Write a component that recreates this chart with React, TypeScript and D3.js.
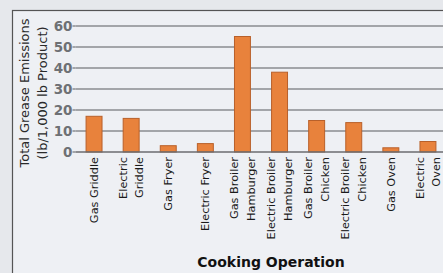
import React from "react";
import * as d3 from "d3";

const categories: string[][] = [
  ["Gas Griddle"],
  ["Electric", "Griddle"],
  ["Gas Fryer"],
  ["Electric Fryer"],
  ["Gas Broiler", "Hamburger"],
  ["Electric Broiler", "Hamburger"],
  ["Gas Broiler", "Chicken"],
  ["Electric Broiler", "Chicken"],
  ["Gas Oven"],
  ["Electric", "Oven"],
];
const values: number[] = [17, 16, 3, 4, 55, 38, 15, 14, 2, 5];
const yTicks: number[] = [0, 10, 20, 30, 40, 50, 60];
const yTitle: string[] = ["Total Grease Emissions", "(lb/1,000 lb Product)"];
const xTitle = "Cooking Operation";

export default function App() {
  const W = 443, H = 273;
  const left = 75.5, step = 37.1;
  const x = d3
    .scaleBand<number>()
    .domain(d3.range(categories.length))
    .range([left, left + step * categories.length])
    .paddingInner(0.57)
    .paddingOuter(0.285);
  const y = d3.scaleLinear().domain([0, 60]).range([152, 26]);
  const font = "'DejaVu Sans', Verdana, sans-serif";
  return (
    <svg
      width={W}
      height={H}
      style={{ position: "absolute", left: 0, top: 0, display: "block" }}
    >
      <rect x={0} y={0} width={W} height={H} fill="#e6e8ec" />
      <rect x={12.5} y={10.5} width={W} height={H} fill="#eef0f4" stroke="#555" strokeWidth={1.2} />
      {yTicks.map((t) => (
        <g key={t}>
          {t > 0 && (
            <line x1={left} x2={W} y1={y(t)} y2={y(t)} stroke="#8a8c90" strokeWidth={1.5} />
          )}
          <line x1={left - 3} x2={left} y1={y(t)} y2={y(t)} stroke="#8a8c90" strokeWidth={1.5} />
          <text
            x={left - 3}
            y={y(t)}
            dy="0.36em"
            textAnchor="end"
            fontFamily={font}
            fontWeight="bold"
            fontSize={13.5}
            fill="#6e7074"
          >
            {t}
          </text>
        </g>
      ))}
      {values.map((v, i) => (
        <rect
          key={i}
          x={x(i)}
          y={y(v)}
          width={x.bandwidth()}
          height={y(0) - y(v)}
          fill="#e8823c"
          stroke="#b8602a"
          strokeWidth={1}
        />
      ))}
      <line x1={left} x2={W} y1={y(0)} y2={y(0)} stroke="#6b6d70" strokeWidth={1.5} />
      {categories.map((lines, i) => {
        const cx = (x(i) as number) + x.bandwidth() / 2;
        const n = lines.length;
        return (
          <text
            key={i}
            transform={`translate(${cx},${157}) rotate(-90)`}
            textAnchor="end"
            fontFamily={font}
            fontSize={11.3}
            fill="#1a1a1a"
          >
            {lines.map((l, j) => (
              <tspan key={j} x={0} y={(j - (n - 1) / 2) * 16.5} dy="0.35em">
                {l}
              </tspan>
            ))}
          </text>
        );
      })}
      <text
        transform={`translate(33,93) rotate(-90)`}
        textAnchor="middle"
        fontFamily={font}
        fontSize={13}
        fill="#2a2a2a"
      >
        {yTitle.map((l, j) => (
          <tspan key={j} x={0} y={(j - 0.5) * 18} dy="0.35em">
            {l}
          </tspan>
        ))}
      </text>
      <text
        x={271}
        y={267}
        textAnchor="middle"
        fontFamily={font}
        fontWeight="bold"
        fontSize={14}
        fill="#111"
      >
        {xTitle}
      </text>
    </svg>
  );
}
